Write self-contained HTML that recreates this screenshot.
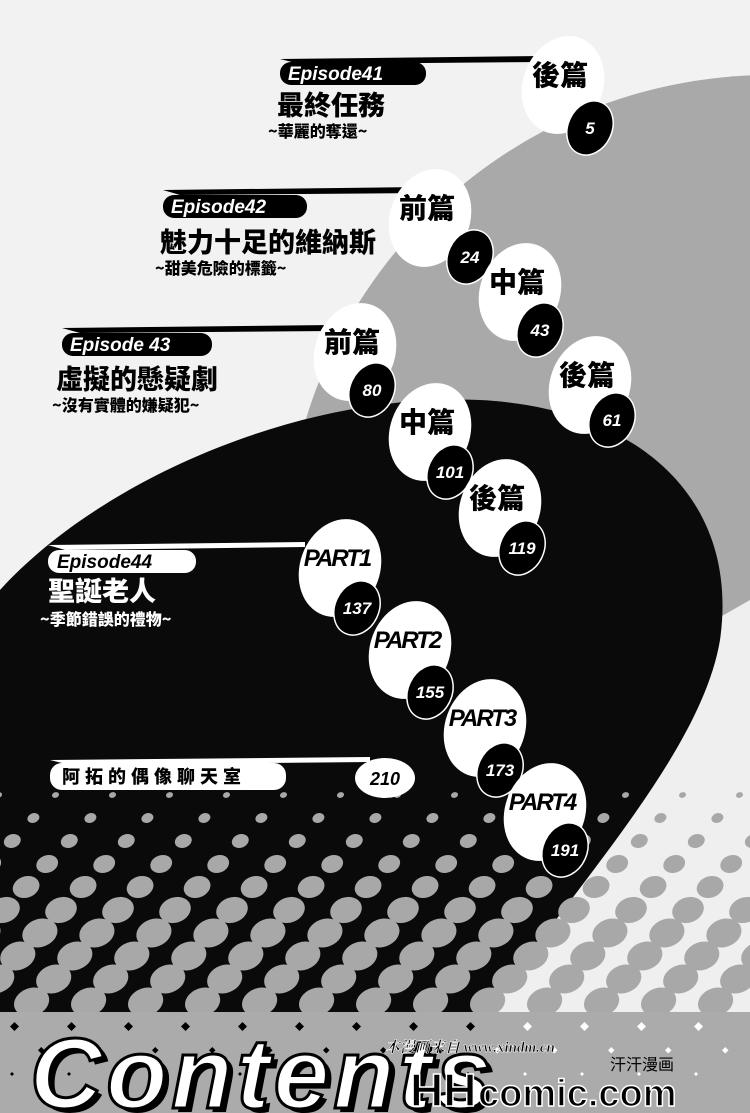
<!DOCTYPE html>
<html><head><meta charset="utf-8">
<style>
html,body{margin:0;padding:0;width:750px;height:1113px;overflow:hidden;background:#f2f2f2}
svg{display:block}
.lbl{font-family:"Liberation Sans","Noto Sans CJK TC",sans-serif;font-weight:bold;font-style:italic}
.cjk{font-family:"Noto Sans CJK TC","WenQuanYi Zen Hei",sans-serif;font-weight:900}
</style></head><body>
<svg id="s" width="750" height="1113" viewBox="0 0 750 1113" xmlns="http://www.w3.org/2000/svg">
<rect width="750" height="1113" fill="#f2f2f2"/>
<circle cx="770" cy="560" r="485" fill="#a9a9a9"/>
<path d="M715,620 L750,600 L750,1040 L470,1040 Z" fill="#efefef"/>
<path d="M0,590 C100,480 300,392 480,400 C640,408 740,500 720,640 C700,760 560,900 470,1040 L0,1040 Z" fill="#0a0a0a"/>
<g id="dots"></g>
<rect x="0" y="1012" width="750" height="101" fill="#ababab"/>
<g id="diam"></g>

<path d="M280,59 L543,56 L543,62 L300,64 Z" fill="#000"/>
<rect x="280" y="62" width="146" height="23" rx="11" fill="#000"/>
<text x="288" y="80" class="lbl" font-size="19" fill="#fff">Episode41</text>
<text x="277" y="115" class="cjk" font-size="27" fill="#000">最終任務</text>
<text x="268" y="137" class="cjk" font-size="16" fill="#000">~華麗的奪還~</text>

<path d="M163,190 L420,187 L420,193 L180,195 Z" fill="#000"/>
<rect x="163" y="195" width="144" height="23" rx="11" fill="#000"/>
<text x="171" y="213" class="lbl" font-size="19" fill="#fff">Episode42</text>
<text x="160" y="252" class="cjk" font-size="27" fill="#000">魅力十足的維納斯</text>
<text x="155" y="274" class="cjk" font-size="16" fill="#000">~甜美危險的標籤~</text>

<path d="M62,328 L332,325 L332,331 L80,333 Z" fill="#000"/>
<rect x="62" y="333" width="150" height="23" rx="11" fill="#000"/>
<text x="70" y="351" class="lbl" font-size="19" fill="#fff">Episode 43</text>
<text x="56" y="389" class="cjk" font-size="27" fill="#000">虛擬的懸疑劇</text>
<text x="52" y="411" class="cjk" font-size="16" fill="#000">~沒有實體的嫌疑犯~</text>

<path d="M48,545 L305,542 L305,547 L65,550 Z" fill="#fff"/>
<rect x="48" y="550" width="148" height="23" rx="11" fill="#fff"/>
<text x="57" y="568" class="lbl" font-size="19" fill="#000">Episode44</text>
<text x="48" y="601" class="cjk" font-size="27" fill="#fff">聖誕老人</text>
<text x="40" y="625" class="cjk" font-size="16" fill="#fff">~季節錯誤的禮物~</text>

<path d="M50,760 L370,757 L370,762 L70,765 Z" fill="#fff"/>
<rect x="50" y="763" width="236" height="27" rx="12" fill="#fff"/>
<text x="62" y="783" class="cjk" font-size="18" fill="#000" letter-spacing="5">阿拓的偶像聊天室</text>

<g id="bub"></g>

<text x="30" y="1108" class="lbl" font-size="100" fill="#000" letter-spacing="4" transform="translate(5,4)">Contents</text>
<text x="30" y="1108" class="lbl" font-size="100" fill="#fff" stroke="#000" stroke-width="3" letter-spacing="4">Contents</text>
<text x="385" y="1052" font-family="Liberation Serif,'Noto Serif CJK SC',serif" font-style="italic" font-weight="bold" font-size="15" fill="#000" stroke="#fff" stroke-width="0.5">本漫画来自 www.xindm.cn</text>
<text x="410" y="1106" font-family="Liberation Sans,sans-serif" font-weight="bold" font-size="46" fill="#000" stroke="#fff" stroke-width="1.5">HH</text>
<text x="478" y="1106" font-family="Liberation Sans,sans-serif" font-weight="bold" font-size="38" fill="#000" stroke="#fff" stroke-width="1.5">comic.com</text>
<text x="610" y="1070" font-family="'Noto Sans CJK SC',sans-serif" font-size="16" fill="#000">汗汗漫画</text>
</svg>
<script>
var NS="http://www.w3.org/2000/svg";
function el(p,t,a){var e=document.createElementNS(NS,t);for(var k in a)e.setAttribute(k,a[k]);p.appendChild(e);return e;}
var d=document.getElementById('dots');
for(var r=0;r<10;r++){
  var y=795+r*23, s=Math.min(1,0.2+r*0.14);
  var off=(r%2)*28;
  for(var x=-60+off;x<800;x+=57){
    var cx=x+(y-790)*0.3;
    el(d,'ellipse',{cx:cx,cy:y,rx:18*s,ry:14*s,fill:'#a8a8a8',transform:'rotate(-20 '+cx+' '+y+')'});
  }
}
var dm=document.getElementById('diam');
for(var r=0;r<3;r++){
  var y=1022+r*25, w=9-r*2.5;
  for(var x=10+(r%2)*28;x<750;x+=57){
    var c=x<470?'#000':'#fff';
    el(dm,'polygon',{points:(x+w/2)+','+y+' '+(x+w)+','+(y+w/2)+' '+(x+w/2)+','+(y+w)+' '+x+','+(y+w/2),fill:c});
  }
}
var b=document.getElementById('bub');
var items=[
 [563,85,'後篇',590,128,'5'],
 [430,218,'前篇',470,257,'24'],
 [520,292,'中篇',540,330,'43'],
 [355,352,'前篇',372,390,'80'],
 [590,385,'後篇',612,420,'61'],
 [430,432,'中篇',450,472,'101'],
 [500,508,'後篇',522,548,'119'],
 [340,568,'PART1',357,608,'137'],
 [410,650,'PART2',430,692,'155'],
 [485,728,'PART3',500,770,'173'],
 [545,812,'PART4',565,850,'191']
];
items.forEach(function(it){
  el(b,'ellipse',{cx:it[0],cy:it[1],rx:40,ry:50,fill:'#fff',transform:'rotate(20 '+it[0]+' '+it[1]+')'});
  el(b,'ellipse',{cx:it[3],cy:it[4],rx:22,ry:28,fill:'#000',stroke:'#fff',"stroke-width":1.5,transform:'rotate(25 '+it[3]+' '+it[4]+')'});
  var isP=it[2].indexOf('PART')==0;
  var t=el(b,'text',{x:it[0]-3,y:it[1]+(isP?-2:0),'text-anchor':'middle','class':isP?'lbl':'cjk','font-size':isP?24:28,fill:'#000'});
  if(isP){t.setAttribute('font-weight','normal');t.setAttribute('letter-spacing','-2');}
  t.textContent=it[2];
  var n=el(b,'text',{x:it[3],y:it[4]+6,'text-anchor':'middle','class':'lbl','font-size':17,fill:'#fff'});
  n.textContent=it[5];
});
el(b,'ellipse',{cx:385,cy:778,rx:30,ry:20,fill:'#fff'});
var n=el(b,'text',{x:385,y:785,'text-anchor':'middle','class':'lbl','font-size':18,fill:'#000'});n.textContent='210';
</script>
</body></html>
